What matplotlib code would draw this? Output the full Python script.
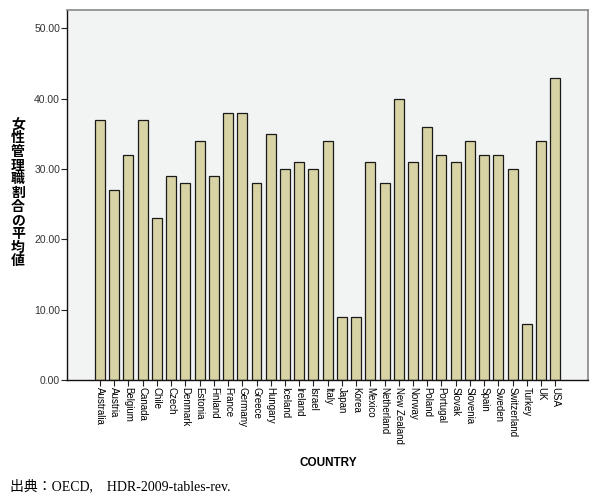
import matplotlib.pyplot as plt

countries = ["Australia", "Austria", "Belgium", "Canada", "Chile", "Czech", "Denmark",
             "Estonia", "Finland", "France", "Germany", "Greece", "Hungary", "Iceland",
             "Ireland", "Israel", "Italy", "Japan", "Korea", "Mexico", "Netherland",
             "New Zealand", "Norway", "Poland", "Portugal", "Slovak", "Slovenia", "Spain",
             "Sweden", "Switzerland", "Turkey", "UK", "USA"]
share = [37, 27, 32, 37, 23, 29, 28, 34, 29, 38, 38, 28, 35, 30, 31, 30, 34,
         9, 9, 31, 28, 40, 31, 36, 32, 31, 34, 32, 32, 30, 8, 34, 43]
y_ticks = [0, 10, 20, 30, 40, 50]

fig = plt.figure(figsize=(6, 5), dpi=100)
ax = fig.add_axes([0.1117, 0.24, 0.8683, 0.74])
ax.set_facecolor("#f2f3f3")

x = range(len(countries))
ax.bar(x, share, width=0.7, color="#d8d3a4", edgecolor="#1a1a1a", linewidth=0.9, zorder=2)

ax.set_xlim(-2.32, 34.3)
ax.set_ylim(0, 52.6)
ax.set_yticks(y_ticks)
ax.set_yticklabels([f"{v:.2f}" for v in y_ticks], fontsize=7.5, color="#333333",
                   family="Liberation Sans")
ax.set_xticks(list(x))
ax.set_xticklabels(countries, rotation=270, fontsize=7, family="Liberation Sans",
                   va="top", ha="center")
ax.tick_params(axis="both", direction="out", length=4, width=0.8, color="#222222", pad=1)

for side in ["top", "right"]:
    ax.spines[side].set_color("#888888")
    ax.spines[side].set_linewidth(1.2)
for side in ["left", "bottom"]:
    ax.spines[side].set_color("#111111")
    ax.spines[side].set_linewidth(1.0)

ylabel = "女性管理職割合の平均値"
fig.text(0.03, 0.614, "\n".join(ylabel), ha="center", va="center", fontsize=10,
         fontweight="bold", family=["Noto Sans CJK JP", "DejaVu Sans"], linespacing=0.97)

fig.text(0.547, 0.073, "COUNTRY", ha="center", va="center", fontsize=8.5,
         fontweight="bold", family="Liberation Sans")

fig.text(0.017, 0.028, "出典：OECD,　HDR-2009-tables-rev.", ha="left", va="center",
         fontsize=10, family=["Liberation Serif", "Noto Sans CJK JP"])

fig.savefig("out.png", dpi=100)
